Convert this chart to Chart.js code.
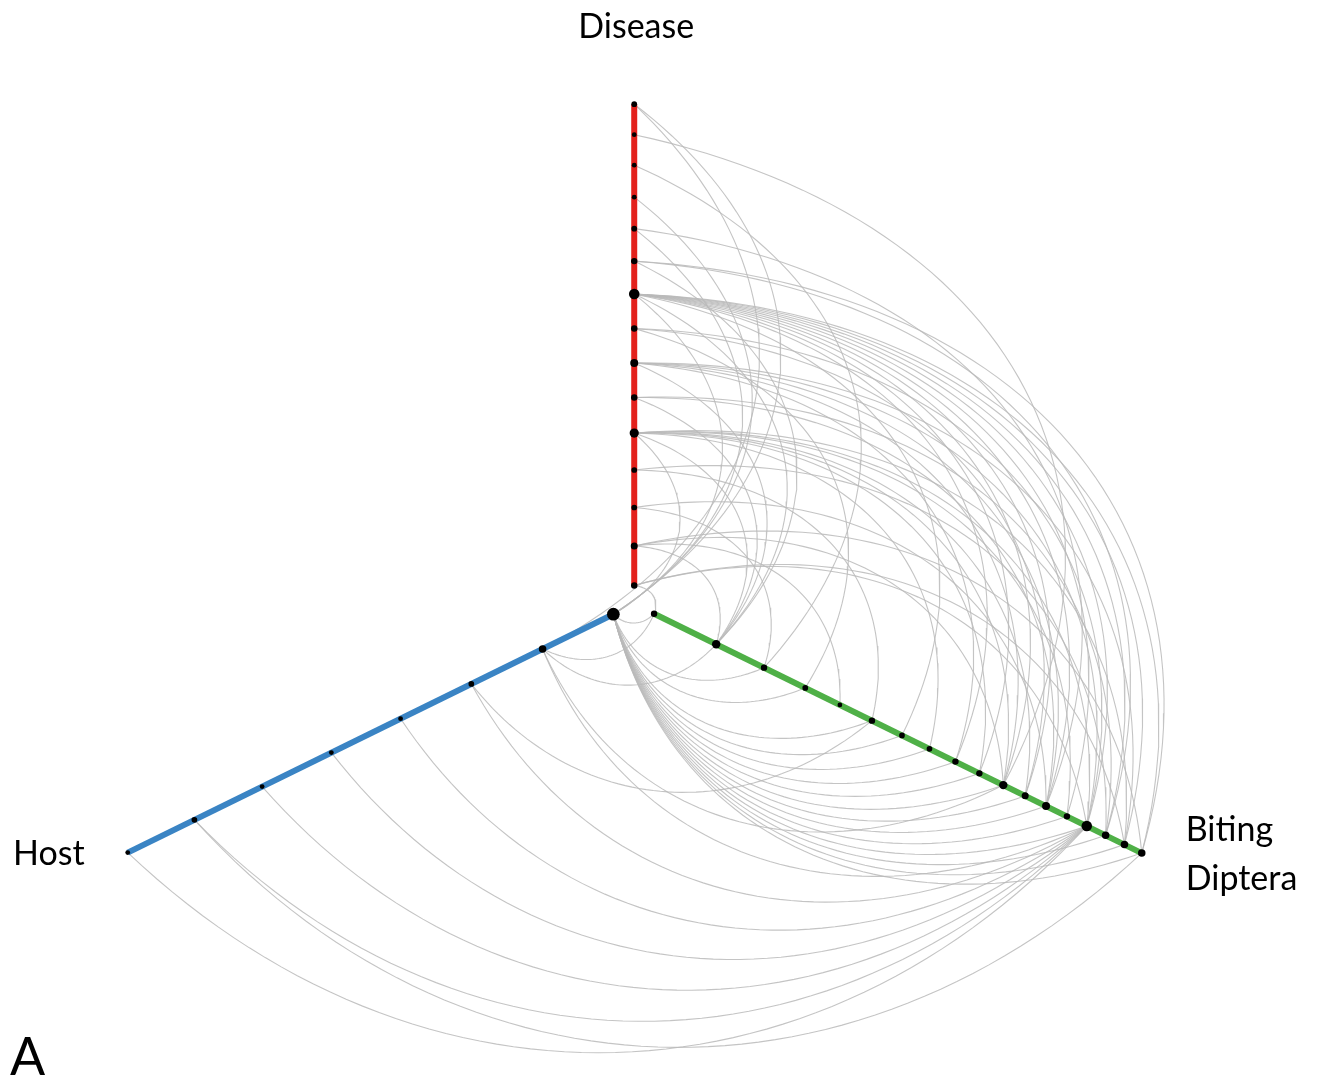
<!DOCTYPE html>
<html>
<head>
<meta charset="utf-8">
<title>Hive plot – Disease, Host, Biting Diptera</title>
<script src="https://cdn.jsdelivr.net/npm/chart.js@4.4.1/dist/chart.umd.min.js"></script>
<style>
  html, body { margin: 0; padding: 0; background: #ffffff; }
  #wrap { width: 1322px; height: 1079px; position: relative; }
  canvas { display: block; }
</style>
</head>
<body>
<div id="wrap"><canvas id="hive" width="1322" height="1079"></canvas></div>
<script>
// Axis names and their angles (degrees, counter-clockwise from east)
const axisNames = ['Disease', 'Biting Diptera', 'Host'];
const axisAngles = [90, -30, 210];

// Node radii along each axis (0 = hive centre, 100 = outer end)
const diseaseRadius = [3.7, 11.6, 19.3, 26.8, 34.2, 41.3, 48.2, 55.1, 62.0, 68.6, 75.1, 81.4, 87.8, 93.9, 100];
const dipteraRadius = [3.9, 16.1, 25.5, 33.6, 40.4, 46.7, 52.6, 58.0, 63.1, 67.8, 72.5, 76.8, 80.9, 85.0, 88.9, 92.6, 96.3, 99.7];
const hostRadius = [4.1, 18.0, 32.0, 45.9, 59.5, 73.1, 86.4, 99.5];

// Links: [disease node, diptera node]
const diseaseDipteraLinks = [
  [0, 0], [0, 14], [0, 16],
  [1, 1], [1, 4], [1, 10], [1, 17],
  [2, 2], [2, 12],
  [3, 5], [3, 15],
  [4, 1], [4, 7], [4, 9], [4, 10], [4, 11], [4, 13], [4, 14], [4, 16],
  [5, 1], [5, 12], [5, 15],
  [6, 1], [6, 8], [6, 10], [6, 12], [6, 14], [6, 16],
  [7, 3], [7, 11], [7, 14],
  [8, 1], [8, 6], [8, 8], [8, 9], [8, 10], [8, 11], [8, 12], [8, 13], [8, 14], [8, 15], [8, 16], [8, 17],
  [9, 1], [9, 15], [9, 17],
  [10, 12],
  [12, 2],
  [13, 10]
];
// Links: [disease node, host node]
const diseaseHostLinks = [
  [4, 0], [8, 0], [10, 0], [11, 0], [14, 0], [14, 1]
];
// Links: [host node, diptera node]
const hostDipteraLinks = [
  [0, 0], [0, 2], [0, 3], [0, 5], [0, 6], [0, 7], [0, 8], [0, 9], [0, 10], [0, 11],
  [0, 12], [0, 13], [0, 14], [0, 15], [0, 16], [0, 17],
  [1, 0], [1, 1], [1, 10], [1, 14],
  [2, 5], [2, 14],
  [3, 14], [4, 14], [5, 14],
  [6, 14], [6, 17],
  [7, 14]
];

const radii = [diseaseRadius, dipteraRadius, hostRadius];
const axisColors = ['#e3211c', '#4fb047', '#3a84c4'];

function nodePos(axis, idx) {
  const a = axisAngles[axis] * Math.PI / 180;
  const r = radii[axis][idx];
  return { x: r * Math.cos(a), y: r * Math.sin(a) };
}

// Curved link between two nodes: bulges to the left of travel from p0 to p1
function linkCurve(p0, p1, steps) {
  const dx = p1.x - p0.x, dy = p1.y - p0.y;
  const L = Math.hypot(dx, dy);
  const ux = dx / L, uy = dy / L;
  const nx = -uy, ny = ux;
  const alpha = 50 * Math.PI / 180, k = 0.455;
  const ca = Math.cos(alpha) * k * L, sa = Math.sin(alpha) * k * L;
  const c1 = { x: p0.x + ca * ux + sa * nx, y: p0.y + ca * uy + sa * ny };
  const c2 = { x: p1.x - ca * ux + sa * nx, y: p1.y - ca * uy + sa * ny };
  const pts = [];
  for (let i = 0; i <= steps; i++) {
    const t = i / steps, m = 1 - t;
    const b0 = m * m * m, b1 = 3 * m * m * t, b2 = 3 * m * t * t, b3 = t * t * t;
    pts.push({
      x: b0 * p0.x + b1 * c1.x + b2 * c2.x + b3 * p1.x,
      y: b0 * p0.y + b1 * c1.y + b2 * c2.y + b3 * p1.y
    });
  }
  return pts;
}

// Degree of every node, used for the node dot size
const degree = radii.map(arr => arr.map(() => 0));
diseaseDipteraLinks.forEach(([d, p]) => { degree[0][d]++; degree[1][p]++; });
diseaseHostLinks.forEach(([d, h]) => { degree[0][d]++; degree[2][h]++; });
hostDipteraLinks.forEach(([h, p]) => { degree[2][h]++; degree[1][p]++; });

const datasets = [];
const edgeStyle = { showLine: true, borderColor: 'rgba(186,186,186,0.85)', borderWidth: 1.1,
  pointRadius: 0, tension: 0, fill: false, order: 3 };

// Axis order Disease -> Diptera -> Host sets the direction of travel
diseaseDipteraLinks.forEach(([d, p]) => {
  datasets.push(Object.assign({ data: linkCurve(nodePos(0, d), nodePos(1, p), 60) }, edgeStyle));
});
diseaseHostLinks.forEach(([d, h]) => {
  datasets.push(Object.assign({ data: linkCurve(nodePos(0, d), nodePos(2, h), 60) }, edgeStyle));
});
hostDipteraLinks.forEach(([h, p]) => {
  datasets.push(Object.assign({ data: linkCurve(nodePos(1, p), nodePos(2, h), 60) }, edgeStyle));
});

// Axis lines
radii.forEach((arr, ax) => {
  datasets.push({
    data: [nodePos(ax, 0), nodePos(ax, arr.length - 1)],
    showLine: true, borderColor: axisColors[ax], borderWidth: 6,
    pointRadius: 0, tension: 0, fill: false, order: 2
  });
});

// Nodes
radii.forEach((arr, ax) => {
  datasets.push({
    data: arr.map((_, i) => nodePos(ax, i)),
    showLine: false,
    pointRadius: degree[ax].map(g => 1.3 + 1.1 * Math.sqrt(g)),
    pointBackgroundColor: '#000000', pointBorderWidth: 0, pointBorderColor: '#000000',
    order: 1
  });
});

// Axis names and panel letter
const labelPlugin = {
  id: 'hiveLabels',
  afterDraw(chart) {
    const { ctx, scales: { x, y } } = chart;
    ctx.save();
    ctx.fillStyle = '#000000';
    ctx.font = '34px Lato, "Open Sans", sans-serif';
    ctx.textBaseline = 'middle';
    const top = nodePos(0, diseaseRadius.length - 1);
    ctx.textAlign = 'center';
    ctx.fillText(axisNames[0], x.getPixelForValue(top.x) + 2, y.getPixelForValue(top.y) - 77);
    const hEnd = nodePos(2, hostRadius.length - 1);
    ctx.textAlign = 'right';
    ctx.fillText(axisNames[2], x.getPixelForValue(hEnd.x) - 43, y.getPixelForValue(hEnd.y) + 1);
    const pEnd = nodePos(1, dipteraRadius.length - 1);
    ctx.textAlign = 'left';
    const words = axisNames[1].split(' ');
    ctx.fillText(words[0], x.getPixelForValue(pEnd.x) + 44, y.getPixelForValue(pEnd.y) - 23);
    ctx.fillText(words[1], x.getPixelForValue(pEnd.x) + 44, y.getPixelForValue(pEnd.y) + 26);
    ctx.font = '52px Lato, "Open Sans", sans-serif';
    ctx.textBaseline = 'alphabetic';
    ctx.fillText('A', 10, 1075);
    ctx.restore();
  }
};

new Chart(document.getElementById('hive'), {
  type: 'scatter',
  data: { datasets },
  options: {
    responsive: false,
    animation: false,
    devicePixelRatio: 1,
    layout: { padding: 0 },
    plugins: { legend: { display: false }, tooltip: { enabled: false } },
    scales: {
      x: { type: 'linear', min: -106.82, max: 115.93, display: false },
      y: { type: 'linear', min: -93.79, max: 119.58, display: false }
    }
  },
  plugins: [labelPlugin]
});
</script>
</body>
</html>
